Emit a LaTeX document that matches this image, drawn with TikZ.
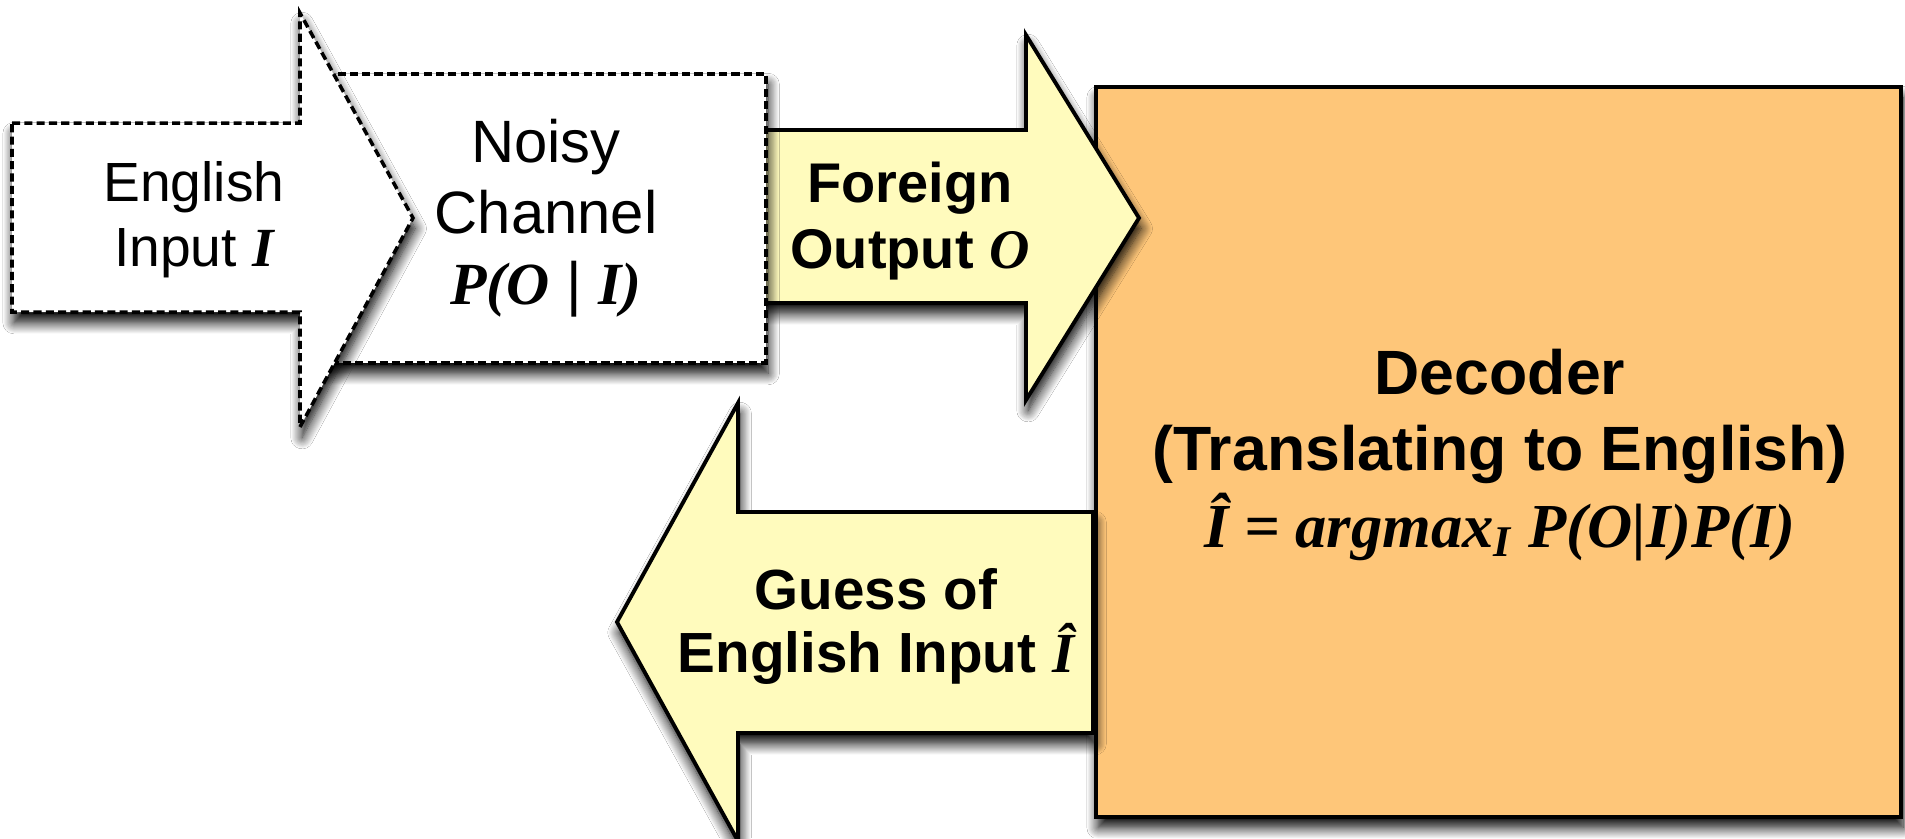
\documentclass[tikz,border=0pt]{standalone}
\usepackage{fontspec}
\setmainfont{Liberation Sans}
\newfontfamily\tmsfam{Liberation Serif}
\usetikzlibrary{shadows.blur}
\definecolor{pale}{HTML}{FFFBBD}
\definecolor{orng}{HTML}{FEC679}
\newcommand\bim[1]{{\tmsfam\bfseries\itshape #1}}
\tikzset{
  shd/.style={blur shadow={shadow xshift=0.6pt, shadow yshift=-3pt, shadow blur radius=3.2pt, shadow blur steps=12, shadow opacity=100}},
  dashshape/.style={draw=black, fill=white, line width=1pt, dash pattern=on 2.3pt off 1.2pt, line join=miter, shd},
  yarrow/.style={draw=black, fill=pale, line width=1.1pt, line join=miter, shd},
  decbox/.style={draw=black, fill=orng, line width=1.1pt, shd},
  lbl/.style={align=center, inner sep=0pt, font=\fontsize{17}{20.2}\selectfont},
  englbl/.style={align=center, inner sep=0pt, font=\fontsize{15.7}{18.6}\selectfont},
  blbl/.style={align=center, inner sep=0pt, font=\fontsize{15.9}{19.0}\selectfont\bfseries},
  glbl/.style={align=center, inner sep=0pt, font=\fontsize{16.1}{17.9}\selectfont\bfseries},
  declbl/.style={align=center, inner sep=0pt, font=\fontsize{17.8}{21.8}\selectfont\bfseries}
}
\begin{document}
\begin{tikzpicture}[x=0.01cm,y=-0.01cm]
\fill[white] (0,0) rectangle (1905,838);
\useasboundingbox (0,0) rectangle (1905,838);
% decoder box
\draw[decbox] (1096,87) rectangle (1901,817);
% guess arrow
\draw[yarrow] (1093,512) -- (738,512) -- (738,403) -- (617,622) -- (738,841) -- (738,733) -- (1093,733) -- cycle;
% foreign arrow
\draw[yarrow] (750,130) -- (1026,130) -- (1026,35) -- (1139,218) -- (1026,400) -- (1026,303) -- (750,303) -- cycle;
% noisy channel box
\draw[dashshape] (312,74) rectangle (766,363);
% english input arrow
\draw[dashshape] (12,123) -- (300,123) -- (300,13) -- (413,218) -- (300,427) -- (300,312) -- (12,312) -- cycle;
% labels
\node[englbl] (eng) at (194,220) {English\\Input \bim{I}};
\node[lbl] (noisy) at (546,218) {Noisy\\Channel\\\bim{P(O} \textbar{} \bim{I)}};
\node[blbl] (foreign) at (910,221) {Foreign\\Output \bim{O}};
\node[glbl] (guess) at (876,626) {Guess of\\English Input \bim{Î}};
\node[declbl] (dec) at (1500,455) {Decoder\\(Translating to English)\\\bim{Î = argmax\textsubscript{I} P(O|I)P(I)}};
\end{tikzpicture}
\end{document}
